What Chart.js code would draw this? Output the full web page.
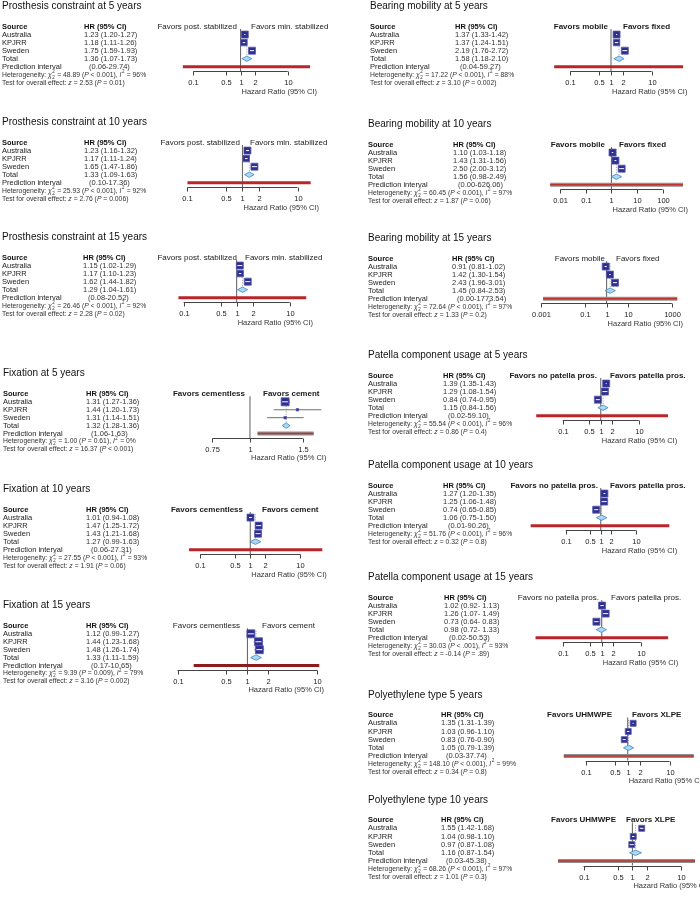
<!DOCTYPE html>
<html>
<head>
<meta charset="utf-8">
<script src="https://cdn.jsdelivr.net/npm/chart.js@4.4.1/dist/chart.umd.min.js"></script>
<style>
html,body{margin:0;padding:0;background:#fff;}
#wrap{position:relative;width:700px;height:905px;overflow:hidden;background:#fff;}
#wrap canvas{position:absolute;}
</style>
</head>
<body>
<div id="wrap"></div>
<script>
// forest plots - data
const sources = ['Australia','KPJRR','Sweden'];
const titles = [
  'Prosthesis constraint at 5 years','Prosthesis constraint at 10 years','Prosthesis constraint at 15 years',
  'Fixation at 5 years','Fixation at 10 years','Fixation at 15 years',
  'Bearing mobility at 5 years','Bearing mobility at 10 years','Bearing mobility at 15 years',
  'Patella component usage at 5 years','Patella component usage at 10 years','Patella component usage at 15 years',
  'Polyethylene type 5 years','Polyethylene type 10 years'
];
const favorsLeft = ['Favors post. stabilized','Favors post. stabilized','Favors post. stabilized',
  'Favors cementless','Favors cementless','Favors cementless',
  'Favors mobile','Favors mobile','Favors mobile',
  'Favors no patella pros.','Favors no patella pros.','Favors no patella pros.',
  'Favors UHMWPE','Favors UHMWPE'];
const favorsRight = ['Favors min. stabilized','Favors min. stabilized','Favors min. stabilized',
  'Favors cement','Favors cement','Favors cement',
  'Favors fixed','Favors fixed','Favors fixed',
  'Favors patella pros.','Favors patella pros.','Favors patella pros.',
  'Favors XLPE','Favors XLPE'];

const studyHR = [
  [1.23,1.18,1.75],[1.23,1.17,1.65],[1.15,1.17,1.62],
  [1.31,1.44,1.31],[1.01,1.47,1.43],[1.12,1.44,1.48],
  [1.37,1.37,2.19],[1.10,1.43,2.50],[0.91,1.42,2.43],
  [1.39,1.29,0.84],[1.27,1.25,0.74],[1.02,1.26,0.73],
  [1.35,1.03,0.83],[1.55,1.04,0.97]
];
const studyLo = [
  [1.20,1.11,1.59],[1.16,1.11,1.47],[1.02,1.10,1.44],
  [1.27,1.20,1.14],[0.94,1.25,1.21],[0.99,1.23,1.26],
  [1.33,1.24,1.76],[1.03,1.31,2.00],[0.81,1.30,1.96],
  [1.35,1.08,0.74],[1.20,1.06,0.65],[0.92,1.07,0.64],
  [1.31,0.96,0.76],[1.42,0.98,0.87]
];
const studyHi = [
  [1.27,1.26,1.93],[1.32,1.24,1.86],[1.29,1.23,1.82],
  [1.36,1.73,1.51],[1.08,1.72,1.68],[1.27,1.68,1.74],
  [1.42,1.51,2.72],[1.18,1.56,3.12],[1.02,1.54,3.01],
  [1.43,1.54,0.95],[1.35,1.48,0.85],[1.13,1.49,0.83],
  [1.39,1.10,0.90],[1.68,1.10,1.08]
];
const totalHR = [1.36,1.33,1.29, 1.32,1.27,1.33, 1.58,1.56,1.45, 1.15,1.06,0.98, 1.05,1.16];
const totalLo = [1.07,1.09,1.04, 1.28,0.99,1.11, 1.18,0.98,0.84, 0.84,0.75,0.72, 0.79,0.87];
const totalHi = [1.73,1.63,1.61, 1.36,1.63,1.59, 2.10,2.49,2.53, 1.56,1.50,1.33, 1.39,1.54];
const piLo = [0.06,0.10,0.08, 1.06,0.06,0.17, 0.04,0.004,0.0012, 0.02,0.01,0.02, 0.03,0.03];
const piHi = [29.74,17.36,20.52, 1.63,27.31,10.65, 59.27,626.06,1773.54, 59.10,90.26,50.53, 37.74,45.38];
const hetChi = [48.89,25.93,26.46, 1.00,27.55,9.39, 17.22,60.45,72.64, 55.54,51.76,30.03, 148.10,68.26];
const hetP = ['< 0.001','< 0.001','< 0.001', '= 0.61','< 0.001','= 0.009',
  '< 0.001','< 0.001','< 0.001', '< 0.001','< 0.001','< .001', '< 0.001','< 0.001'];
const hetI2 = [96,92,92, 0,93,79, 88,97,97, 96,96,93, 99,97];
const testZ = [2.53,2.76,2.28, 16.37,1.91,3.16, 3.10,1.87,1.33, 0.86,0.32,-0.14, 0.34,1.01];
const testP = ['= 0.01','= 0.006','= 0.02', '< 0.001','= 0.06','= 0.002',
  '= 0.002','= 0.06','= 0.2', '= 0.4','= 0.8','= .89', '= 0.8','= 0.3'];
const std5 = [0.1,0.5,1,2,10];
const axisTicks = [std5,std5,std5, [0.75,1,1.5],std5,std5,
  std5,[0.01,0.1,1,10,100],[0.001,0.1,1,10,1000], std5,std5,std5, std5,std5];

// layout / style per panel (panel-local pixels)
const layout = [
  {col:0,t:6,  p1:243.5,ppd:48.5, fvL:237,fvR:251,tx:2, hx:84, box:[7,6.5,7],pi:'red'},
  {col:0,t:122,p1:245.5,ppd:56.5, fvL:240,fvR:250,tx:2, hx:84, box:[7,6.5,7],pi:'red'},
  {col:0,t:237,p1:239.5,ppd:54.5, fvL:237,fvR:245,tx:2, hx:83, box:[7,6.5,7],pi:'red'},
  {col:0,t:373,p1:253.6,ppd:309,  fvL:245,fvR:263,tx:3, hx:86, box:[8,2.5,2.5],pi:'grey',bold:true},
  {col:0,t:489,p1:253.5,ppd:51.5, fvL:243,fvR:262,tx:3, hx:86, box:[7,7,7],pi:'red',bold:true},
  {col:0,t:605,p1:251,  ppd:72,   fvL:240,fvR:262,tx:3, hx:86, box:[8,8,8],pi:'dark'},
  {col:1,t:6,  p1:264,  ppd:42,   fvL:258,fvR:273,tx:20,hx:105,box:[7,6.5,7],pi:'red',bold:true},
  {col:1,t:124,p1:265,  ppd:26.25,fvL:255,fvR:269,tx:18,hx:103,box:[7,7,7],pi:'grey',bold:true},
  {col:1,t:238,p1:260,  ppd:22.33,fvL:255,fvR:266,tx:18,hx:102,box:[7,7,7],pi:'grey'},
  {col:1,t:355,p1:254,  ppd:39,   fvL:247,fvR:260,tx:18,hx:93, box:[7,7,7],pi:'red',bold:true},
  {col:1,t:465,p1:254,  ppd:36,   fvL:248,fvR:260,tx:18,hx:93, box:[7,7,7],pi:'red',bold:true},
  {col:1,t:577,p1:255,  ppd:40,   fvL:249,fvR:261,tx:18,hx:94, box:[7,7,7],pi:'red',sep:'- '},
  {col:1,t:695,p1:281,  ppd:43,   fvL:262,fvR:282,tx:18,hx:91, box:[6,6,6],pi:'grey',bold:true},
  {col:1,t:800,p1:286,  ppd:50,   fvL:266,fvR:276,tx:18,hx:91, box:[6,6,6],pi:'grey',bold:true}
];

const FONT = '"Liberation Sans", Arial, Helvetica, sans-serif';
const W = 350, H = 108, PLOT_LEFT = 130;
const Y0 = -25.5/9;          // y value at canvas top, 9px per row
const AXIS_ROW = 5.56;
const fmt = v => v.toFixed(2);

function txt(ctx, s, x, y, size, o){
  o = o || {};
  ctx.font = (o.italic?'italic ':'') + (o.bold?'bold ':'') + size + 'px ' + FONT;
  ctx.fillStyle = o.color || '#222';
  ctx.textAlign = o.align || 'left';
  ctx.textBaseline = 'middle';
  ctx.fillText(s, x, y);
  return ctx.measureText(s).width;
}

function rich(ctx, x, y, parts, size){
  let cx = x;
  parts.forEach(([s, st]) => {
    if (st === 'n' || st === 'i'){
      cx += txt(ctx, s, cx, y, size, {italic: st==='i', color:'#333'});
    } else {
      const w = txt(ctx, s, cx + 0.5, y - size*0.45, size*0.65, {color:'#333'});
      if (st === 'supsub') txt(ctx, s, cx + 0.5, y + size*0.4, size*0.65, {color:'#333'});
      cx += w + 1;
    }
  });
}

function seg(ctx, x1, y1, x2, y2){
  ctx.beginPath(); ctx.moveTo(x1, y1); ctx.lineTo(x2, y2); ctx.stroke();
}

function forestPlugin(i){
  const L = layout[i];
  return {
    id: 'forest' + i,
    afterDatasetsDraw(chart){
      const ctx = chart.ctx, xs = chart.scales.x, ys = chart.scales.y;
      const px = v => xs.getPixelForValue(v), py = v => ys.getPixelForValue(v);
      ctx.save();
      // white estimate line inside the boxes
      ctx.strokeStyle = '#ffffff'; ctx.lineWidth = 1;
      studyHR[i].forEach((v, k) => {
        const s = L.box[k];
        if (s < 5) return;
        const cx = px(v), cy = py(k + 1);
        const a = Math.max(px(studyLo[i][k]), cx - s/2 + 1);
        const b = Math.min(px(studyHi[i][k]), cx + s/2 - 1);
        seg(ctx, a, cy, b, cy);
      });
      // summary diamond
      const dy = py(4), h = 2.7;
      ctx.beginPath();
      ctx.moveTo(px(totalLo[i]), dy);
      ctx.lineTo(px(totalHR[i]), dy - h);
      ctx.lineTo(px(totalHi[i]), dy);
      ctx.lineTo(px(totalHR[i]), dy + h);
      ctx.closePath();
      ctx.fillStyle = '#a9d9f1'; ctx.fill();
      ctx.strokeStyle = '#3f86c4'; ctx.lineWidth = 0.8; ctx.stroke();
      ctx.restore();
    },
    afterDraw(chart){
      const ctx = chart.ctx, xs = chart.scales.x, ys = chart.scales.y;
      const px = v => xs.getPixelForValue(v), py = v => ys.getPixelForValue(v);
      ctx.save();
      // title and table
      txt(ctx, titles[i], L.tx, 8, 10, {color:'#111'});
      txt(ctx, 'Source', L.tx, py(0), 7.5, {bold:true, color:'#111'});
      txt(ctx, 'HR (95% CI)', L.hx, py(0), 7.5, {bold:true, color:'#111'});
      const sep = L.sep || '-';
      sources.forEach((s, k) => {
        txt(ctx, s, L.tx, py(k + 1), 7.5);
        txt(ctx, fmt(studyHR[i][k]) + ' (' + fmt(studyLo[i][k]) + sep + fmt(studyHi[i][k]) + ')', L.hx, py(k + 1), 7.5, {color:'#333'});
      });
      txt(ctx, 'Total', L.tx, py(4), 7.5);
      txt(ctx, fmt(totalHR[i]) + ' (' + fmt(totalLo[i]) + sep + fmt(totalHi[i]) + ')', L.hx, py(4), 7.5, {color:'#333'});
      txt(ctx, 'Prediction interval', L.tx, py(5), 7.5);
      txt(ctx, '(' + fmt(piLo[i]) + '-' + fmt(piHi[i]) + ')', L.hx + 5, py(5), 7.5, {color:'#333'});
      rich(ctx, L.tx, py(6), [
        ['Heterogeneity: ','n'], ['\u03c7','i'], ['2','supsub'],
        [' = ' + fmt(hetChi[i]) + ' (','n'], ['P','i'], [' ' + hetP[i] + '), ','n'],
        ['I','i'], ['2','sup'], [' = ' + hetI2[i] + '%','n']
      ], 6.8);
      rich(ctx, L.tx, py(7), [
        ['Test for overall effect: ','n'], ['z','i'], [' = ' + fmt(testZ[i]) + ' (','n'],
        ['P','i'], [' ' + testP[i] + ')','n']
      ], 6.8);
      // favours labels
      txt(ctx, favorsLeft[i], L.fvL, py(0), 8, {align:'right', bold:L.bold, color:'#1a1a1a'});
      txt(ctx, favorsRight[i], L.fvR, py(0), 8, {bold:L.bold, color:'#1a1a1a'});
      // x axis
      const tk = axisTicks[i], ay = Math.round(py(AXIS_ROW)) + 0.5;
      ctx.strokeStyle = '#444'; ctx.lineWidth = 1;
      seg(ctx, px(tk[0]), ay, px(tk[tk.length - 1]), ay);
      tk.forEach(v => {
        const x = Math.round(px(v)) + 0.5;
        seg(ctx, x, ay, x, ay + 4);
        txt(ctx, String(v), x, py(7.05), 7.5, {align:'center'});
      });
      txt(ctx, 'Hazard Ratio (95% CI)', px(1) + 1, py(8.1), 7.5, {color:'#333'});
      ctx.restore();
    }
  };
}

const wrap = document.getElementById('wrap');

function makePanel(i){
  const L = layout[i];
  const cv = document.createElement('canvas');
  cv.width = W; cv.height = H;
  cv.style.left = (L.col * 350) + 'px';
  cv.style.top = (L.t - 8) + 'px';
  wrap.appendChild(cv);

  const xmin = Math.pow(10, (PLOT_LEFT - L.p1) / L.ppd);
  const xmax = Math.pow(10, (W - L.p1) / L.ppd);
  const line = (pts, color, width, order, dash) => ({
    data: pts, showLine: true, borderColor: color, borderWidth: width,
    borderDash: dash || [], pointRadius: 0, order: order, borderCapStyle: 'butt'
  });

  const datasets = [];
  // study boxes
  datasets.push({
    data: studyHR[i].map((v, k) => ({x: v, y: k + 1})),
    pointStyle: 'rect',
    pointRadius: L.box.map(s => s / Math.SQRT2),
    backgroundColor: '#2d2e8e', borderColor: '#5a5ab0', borderWidth: 0.8,
    order: 0
  });
  // confidence intervals
  studyHR[i].forEach((v, k) => {
    datasets.push(line([{x: studyLo[i][k], y: k + 1}, {x: studyHi[i][k], y: k + 1}], '#707070', 1, 2));
  });
  // prediction interval
  const pi = [{x: piLo[i], y: 5}, {x: piHi[i], y: 5}];
  if (L.pi === 'grey'){
    datasets.push(line(pi, '#c0312b', 1.6, 3));
    datasets.push(line(pi, '#8e8e8e', 4, 4));
  } else {
    datasets.push(line(pi, L.pi === 'dark' ? '#8e1c1c' : '#b8262b', 3, 3));
  }
  // null line and summary line
  datasets.push(line([{x: 1, y: 0.3}, {x: 1, y: AXIS_ROW}], '#6b6b6b', 1.1, 5));
  datasets.push(line([{x: totalHR[i], y: 0.6}, {x: totalHR[i], y: 3.7}], '#9a9a9a', 1, 5, [1, 1.5]));

  new Chart(cv, {
    type: 'scatter',
    data: { datasets },
    options: {
      responsive: false, animation: false, devicePixelRatio: 1, events: [],
      layout: { padding: {left: PLOT_LEFT, right: 0, top: 0, bottom: 0} },
      scales: {
        x: { type: 'logarithmic', min: xmin, max: xmax, display: false },
        y: { type: 'linear', reverse: true, min: Y0, max: Y0 + H / 9, display: false }
      },
      plugins: { legend: {display: false}, tooltip: {enabled: false} }
    },
    plugins: [forestPlugin(i)]
  });
}

titles.forEach((t, i) => makePanel(i));
</script>
</body>
</html>
